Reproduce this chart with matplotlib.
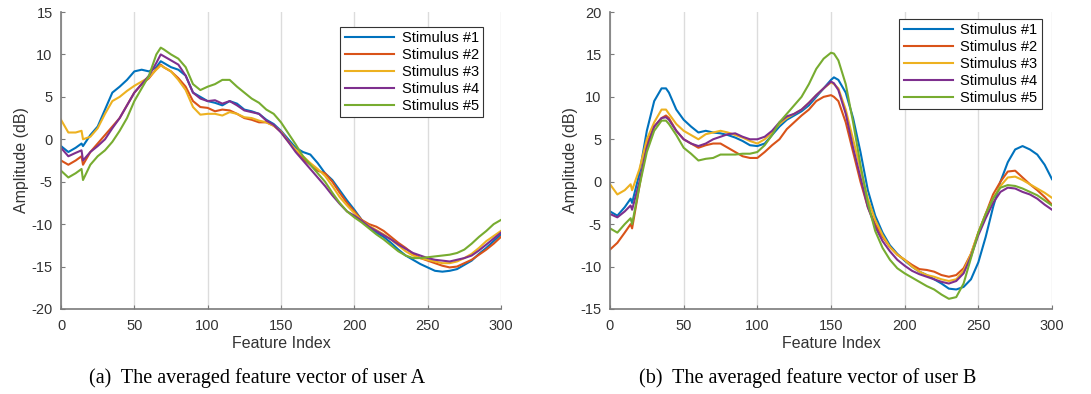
import numpy as np
import matplotlib
matplotlib.use("Agg")
import matplotlib.pyplot as plt

# colours (matlab default order)
COLORS = ['#0072BD', '#D95319', '#EDB120', '#7E2F8E', '#77AC30']
LABELS = ['Stimulus #1', 'Stimulus #2', 'Stimulus #3', 'Stimulus #4', 'Stimulus #5']

# ---- user A ----
x_a = [0, 5, 10, 14, 15, 20, 25, 30, 35, 40, 45, 50, 55, 60, 65, 68, 70, 75, 80, 85,
       90, 95, 100, 105, 110, 115, 120, 125, 130, 135, 140, 145, 150, 155, 160, 165,
       170, 175, 180, 185, 190, 195, 200, 205, 210, 215, 220, 225, 230, 235, 240, 245,
       250, 255, 260, 265, 270, 275, 280, 285, 290, 295, 300]

a_s1 = [-0.8, -1.5, -1.0, -0.5, -0.8, 0.5, 1.5, 3.5, 5.5, 6.2, 7.0, 8.0, 8.2, 8.0, 8.5, 9.2, 9.0, 8.5, 8.2, 7.5,
        5.5, 5.0, 4.5, 4.3, 4.0, 4.5, 4.2, 3.5, 3.3, 3.0, 2.3, 1.8, 1.0, 0.0, -1.0, -1.5,
        -1.8, -2.8, -4.0, -4.8, -6.0, -7.2, -8.3, -9.5, -10.3, -11.0, -11.5, -12.2, -13.0, -13.7, -14.2, -14.7,
        -15.1, -15.5, -15.6, -15.5, -15.3, -14.8, -14.3, -13.5, -12.8, -12.0, -11.2]
a_s2 = [-2.5, -3.0, -2.5, -2.0, -3.0, -1.5, -0.5, 0.5, 1.5, 2.5, 4.0, 5.5, 6.5, 7.2, 8.3, 8.8, 8.5, 8.0, 7.2, 6.2,
        4.5, 3.8, 3.7, 3.3, 3.5, 3.4, 3.0, 2.5, 2.3, 2.0, 2.0, 1.6, 0.9, -0.2, -1.3, -2.3,
        -3.0, -3.7, -4.0, -5.0, -6.3, -7.5, -8.5, -9.5, -10.0, -10.3, -10.8, -11.5, -12.2, -12.8, -13.5, -14.0,
        -14.3, -14.6, -14.9, -15.1, -15.0, -14.6, -14.2, -13.6, -13.0, -12.3, -11.5]
a_s3 = [2.3, 0.8, 0.8, 1.0, 0.0, 0.3, 1.3, 3.0, 4.5, 5.0, 5.7, 6.3, 6.8, 7.3, 8.2, 8.7, 8.5, 8.0, 7.0, 5.8,
        3.8, 2.9, 3.0, 3.0, 2.8, 3.2, 3.0, 2.6, 2.5, 2.2, 2.0, 1.6, 0.9, -0.3, -1.2, -2.0,
        -2.8, -3.5, -4.3, -5.5, -6.8, -7.8, -8.7, -9.6, -10.2, -10.7, -11.2, -11.8, -12.5, -13.2, -13.7, -14.0,
        -14.2, -14.4, -14.6, -14.6, -14.4, -14.0, -13.5, -12.8, -12.0, -11.4, -10.8]
a_s4 = [-1.0, -2.0, -1.6, -1.3, -2.5, -1.5, -0.8, 0.0, 1.3, 2.5, 4.0, 5.5, 6.5, 7.5, 9.0, 10.0, 9.8, 9.3, 8.8, 7.5,
        5.5, 4.8, 4.5, 4.6, 4.2, 4.5, 4.0, 3.4, 3.2, 3.0, 2.2, 1.7, 0.8, -0.3, -1.5, -2.5,
        -3.5, -4.5, -5.5, -6.6, -7.6, -8.5, -9.0, -9.6, -10.3, -10.8, -11.3, -11.8, -12.4, -12.9, -13.4, -13.7,
        -14.0, -14.2, -14.3, -14.4, -14.2, -14.0, -13.7, -13.1, -12.4, -11.7, -11.0]
a_s5 = [-3.7, -4.5, -4.0, -3.5, -4.8, -3.0, -2.0, -1.3, -0.3, 1.0, 2.5, 4.5, 6.0, 7.5, 10.0, 10.8, 10.6, 10.0, 9.5, 8.5,
        6.5, 5.8, 6.2, 6.5, 7.0, 7.0, 6.2, 5.5, 4.8, 4.3, 3.5, 3.0, 2.0, 0.7, -0.6, -2.0,
        -3.0, -4.0, -5.0, -6.3, -7.5, -8.5, -9.2, -9.8, -10.5, -11.2, -11.8, -12.5, -13.2, -13.7, -14.0, -14.0,
        -13.9, -13.8, -13.7, -13.6, -13.4, -13.0, -12.3, -11.5, -10.8, -10.0, -9.5]

# ---- user B ----
x_b = [0, 5, 10, 14, 15, 20, 25, 30, 35, 38, 40, 45, 50, 55, 60, 65, 70, 75, 80, 85,
       90, 95, 100, 105, 110, 115, 120, 125, 130, 135, 140, 145, 150, 152, 155, 160, 165,
       170, 175, 180, 185, 190, 195, 200, 205, 210, 215, 220, 225, 230, 235, 240, 245,
       250, 255, 260, 265, 270, 275, 280, 285, 290, 295, 300]

b_s1 = [-3.5, -4.0, -3.0, -2.0, -2.5, 1.0, 6.0, 9.5, 11.0, 11.0, 10.5, 8.5, 7.3, 6.5, 5.8, 6.0, 5.8, 5.7, 5.5, 5.2,
        4.8, 4.3, 4.2, 4.5, 5.5, 6.5, 7.3, 7.8, 8.3, 9.0, 10.0, 11.0, 12.0, 12.3, 12.0, 10.5, 7.5,
        3.5, -1.0, -4.0, -6.0, -7.5, -8.5, -9.3, -10.0, -10.6, -11.0, -11.5, -12.0, -12.6, -12.7, -12.4, -11.5,
        -9.5, -6.5, -3.0, 0.0, 2.3, 3.8, 4.2, 3.8, 3.2, 2.0, 0.3]
b_s2 = [-8.0, -7.2, -6.0, -5.0, -5.5, -0.5, 4.5, 6.5, 7.5, 7.8, 7.5, 6.0, 5.0, 4.5, 4.0, 4.3, 4.5, 4.5, 4.0, 3.5,
        3.0, 2.8, 2.8, 3.5, 4.3, 5.0, 6.2, 7.0, 7.8, 8.5, 9.5, 10.0, 10.2, 10.0, 9.5, 7.0, 3.5,
        0.0, -3.0, -5.0, -6.5, -7.7, -8.6, -9.2, -9.8, -10.3, -10.4, -10.6, -11.0, -11.2, -11.0, -10.2, -8.5,
        -6.0, -3.8, -1.5, 0.0, 1.2, 1.3, 0.5, -0.3, -1.0, -1.8, -2.7]
b_s3 = [-0.3, -1.5, -1.0, -0.3, -1.0, 1.5, 5.0, 7.0, 8.5, 8.5, 8.0, 6.8, 6.0, 5.5, 5.0, 5.6, 5.8, 6.0, 5.8, 5.5,
        5.2, 4.8, 4.5, 5.0, 5.8, 6.8, 7.5, 8.0, 8.5, 9.3, 10.2, 11.0, 11.7, 11.5, 11.0, 8.5, 5.0,
        1.5, -2.0, -4.5, -6.3, -7.7, -8.6, -9.2, -10.0, -10.6, -11.0, -11.2, -11.5, -11.7, -11.5, -10.5, -8.5,
        -6.0, -3.8, -2.0, -0.5, 0.5, 0.6, 0.2, -0.3, -0.8, -1.3, -1.9]
b_s4 = [-3.8, -4.2, -3.5, -2.8, -3.3, 0.0, 4.0, 6.5, 7.5, 7.6, 7.3, 6.0, 5.0, 4.5, 4.2, 4.5, 5.0, 5.3, 5.6, 5.7,
        5.3, 5.0, 5.0, 5.3, 6.0, 7.0, 7.7, 8.0, 8.5, 9.3, 10.2, 11.0, 11.8, 11.6, 10.8, 8.0, 4.0,
        0.5, -3.0, -5.3, -7.0, -8.2, -9.2, -9.9, -10.5, -10.9, -11.2, -11.5, -11.8, -12.0, -11.7, -10.8, -8.8,
        -6.3, -4.3, -2.5, -1.2, -0.7, -0.8, -1.2, -1.5, -2.0, -2.7, -3.3]
b_s5 = [-5.5, -6.0, -5.0, -4.3, -5.0, -0.5, 3.5, 6.0, 7.2, 7.2, 6.8, 5.5, 4.0, 3.3, 2.5, 2.7, 2.8, 3.2, 3.2, 3.2,
        3.3, 3.3, 3.5, 4.3, 5.5, 7.0, 8.0, 9.0, 10.0, 11.5, 13.3, 14.5, 15.2, 15.1, 14.3, 11.5, 7.0,
        2.0, -2.5, -5.8, -7.8, -9.2, -10.2, -10.8, -11.3, -11.8, -12.3, -12.7, -13.3, -13.8, -13.6, -12.0, -9.0,
        -6.0, -3.8, -2.0, -0.7, -0.4, -0.5, -0.8, -1.2, -1.6, -2.2, -2.8]

plt.rcParams['font.family'] = ['Liberation Sans', 'DejaVu Sans']
plt.rcParams['axes.unicode_minus'] = False

fig = plt.figure(figsize=(10.91, 3.94), dpi=100)
W, H = 1091.0, 394.0


def make_axes(x0, x1, y0, y1):
    # pixel box -> figure fraction
    return fig.add_axes([x0 / W, 1 - y1 / H, (x1 - x0) / W, (y1 - y0) / H])


def style(ax, ylim, yticks, legend_anchor):
    ax.set_xlim(0, 300)
    ax.set_ylim(*ylim)
    ax.set_xticks(range(0, 301, 50))
    ax.set_yticks(yticks)
    ax.grid(axis='x', color='#dcdcdc', linewidth=1.0)
    ax.set_axisbelow(True)
    for s in ['top', 'right']:
        ax.spines[s].set_visible(False)
    for s in ['left', 'bottom']:
        ax.spines[s].set_color('#7a7a7a')
        ax.spines[s].set_linewidth(1.2)
    ax.tick_params(direction='in', length=3, color='#7a7a7a', labelsize=10.5,
                   labelcolor='#333333', pad=7)
    ax.tick_params(axis='y', pad=6)
    ax.set_xlabel('Feature Index', fontsize=11.5, color='#333333', labelpad=2)
    ax.set_ylabel('Amplitude (dB)', fontsize=11.5, color='#333333', labelpad=2)
    leg = ax.legend(loc='upper right', bbox_to_anchor=legend_anchor, fontsize=10.5,
                    fancybox=False, framealpha=1, edgecolor='#333333',
                    handlelength=3.4, handletextpad=0.5, labelspacing=0.2,
                    borderpad=0.3, borderaxespad=0)
    leg.get_frame().set_linewidth(0.8)


ax1 = make_axes(61, 501, 12, 309)
for ys, c, lab in zip([a_s1, a_s2, a_s3, a_s4, a_s5], COLORS, LABELS):
    ax1.plot(x_a, ys, color=c, linewidth=1.5, label=lab)
style(ax1, (-20, 15), range(-20, 16, 5), ((483 - 61) / 440.0, (309 - 27) / 297.0))

ax2 = make_axes(610, 1052, 12, 309)
for ys, c, lab in zip([b_s1, b_s2, b_s3, b_s4, b_s5], COLORS, LABELS):
    ax2.plot(x_b, ys, color=c, linewidth=1.5, label=lab)
style(ax2, (-15, 20), range(-15, 21, 5), ((1042 - 610) / 442.0, (309 - 19) / 297.0))

fig.text(257 / W, 1 - 378 / H, '(a)  The averaged feature vector of user A', ha='center', va='center',
         fontsize=14.5, family=['Liberation Serif', 'DejaVu Serif'])
fig.text(808 / W, 1 - 378 / H, '(b)  The averaged feature vector of user B', ha='center', va='center',
         fontsize=14.5, family=['Liberation Serif', 'DejaVu Serif'])

fig.savefig('out.png', dpi=100)
